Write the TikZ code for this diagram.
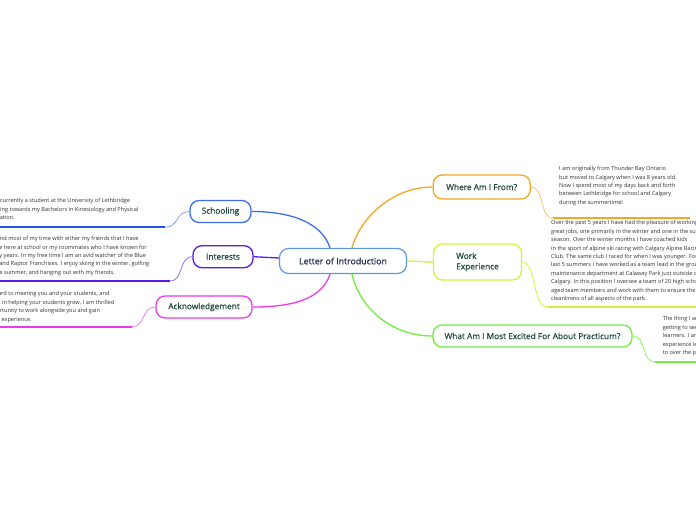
\documentclass[tikz,border=0pt]{standalone}
\usepackage{fontspec}
\setmainfont{Open Sans}
\newfontfamily\labfont[FakeBold=0.6]{Open Sans}
\usetikzlibrary{calc}
\definecolor{cblue}{HTML}{3B6EF2}
\definecolor{cblueu}{HTML}{2352F0}
\definecolor{cpurple}{HTML}{5A1CE6}
\definecolor{cmag}{HTML}{EA3AEA}
\definecolor{corange}{HTML}{F5A623}
\definecolor{cyg}{HTML}{D6F03C}
\definecolor{cgreen}{HTML}{6FEE3E}
\definecolor{ccenter}{HTML}{5B9BD8}
\definecolor{labc}{HTML}{1E4A3E}
\definecolor{navy}{HTML}{1E2B4E}
\definecolor{notec}{HTML}{303030}
\begin{document}
\begin{tikzpicture}[x=1pt,y=-1pt,
  branch/.style={draw, rounded corners=9pt, line width=1.3pt, fill=white,
    minimum height=22pt, inner sep=0pt, font=\labfont\fontsize{8.3}{10.5}\selectfont, text=labc},
  note/.style={anchor=north west, align=left, inner sep=0pt,
    font=\fontsize{5.6}{8.4}\selectfont, text=notec},
  bline/.style={line width=1.3pt},
  thin/.style={line width=0.8pt},
  uline/.style={line width=2pt}]
\useasboundingbox (0,0) rectangle (696,520);
\clip (0,0) rectangle (696,520);

% center
\node[branch, draw=ccenter, line width=1.2pt, minimum width=127pt, minimum height=25pt,
  font=\labfont\fontsize{8.8}{10}\selectfont, text=navy] (c) at (343,261) {Letter of Introduction};

% branches
\node[branch, draw=cblue, minimum width=61pt] (s) at (220.5,211.5) {Schooling};
\node[branch, draw=cpurple, minimum width=60pt] (i) at (223,256.7) {Interests};
\node[branch, draw=cmag, minimum width=96pt] (a) at (204,307) {Acknowledgement};
\node[branch, draw=corange, minimum width=97pt, minimum height=24pt] (w) at (481.7,187) {Where Am I From?};
\node[branch, draw=cyg, minimum width=88pt, minimum height=36pt, align=left] (e) at (477.5,262) {Work\\Experience};
\node[branch, draw=cgreen, minimum width=199pt] (p) at (532.5,336) {What Am I Most Excited For About Practicum?};

% start points on center
\coordinate (c1) at ($(c.north)+(-13,0)$);
\coordinate (c2) at ($(c.north)+(9,0)$);
\coordinate (c3) at ($(c.south)+(-13,0)$);
\coordinate (c4) at ($(c.south)+(9,0)$);
\coordinate (c5) at ($(c.west)+(0,-3)$);

\draw[bline, cblue] (c1) .. controls ($(c1)+(-8,-25)$) and ($(s.east)+(40,0)$) .. (s.east);
\draw[bline, corange] (c2) .. controls ($(c2)+(8,-30)$) and ($(w.west)+(-40,0)$) .. (w.west);
\draw[bline, cmag] (c3) .. controls ($(c3)+(-8,25)$) and ($(a.east)+(40,0)$) .. (a.east);
\draw[bline, cgreen] (c4) .. controls ($(c4)+(8,35)$) and ($(p.west)+(-40,0)$) .. (p.west);
\draw[bline, cpurple] (c5) .. controls ($(c5)+(-12,0)$) and ($(i.east)+(12,0)$) .. (i.east);
\draw[bline, cyg] (c.east) .. controls ($(c.east)+(12,0)$) and ($(e.west)+(-12,0)$) .. (e.west);

% notes
\node[note] (sn) at (-13,198.2) {I am currently a student at the University of Lethbridge\\working towards my Bachelors in Kinesiology and Physical\\Education.};
\node[note] (in) at (-12.5,236.2) {I spend most of my time with either my friends that I have\\made here at school or my roommates who I have known for\\many years. In my free time I am an avid watcher of the Blue\\Jays and Raptor Franchises. I enjoy skiing in the winter, golfing\\in the summer, and hanging out with my friends.};
\node[note] (an) at (-14,291.5) {forward to meeting you and your students, and\\assist in helping your students grow. I am thrilled\\opportunity to work alongside you and gain\\more experience.};
\node[note] (wn) at (559,166.2) {I am originally from Thunder Bay Ontario\\but moved to Calgary when I was 8 years old.\\Now I spend most of my days back and forth\\between Lethbridge for school and Calgary\\during the summertime!};
\node[note] (en) at (551,220.5) {Over the past 5 years I have had the pleasure of working two\\great jobs, one primarily in the winter and one in the summer\\season. Over the winter months I have coached kids\\in the sport of alpine ski racing with Calgary Alpine Racing\\Club. The same club I raced for when I was younger. For the\\last 5 summers I have worked as a team lead in the grounds\\maintenance department at Calaway Park just outside of\\Calgary. In this position I oversee a team of 20 high school\\aged team members and work with them to ensure the\\cleanliness of all aspects of the park.};
\node[note] (pn) at (662.7,316.5) {The thing I am most excited for is\\getting to see my future\\learners. I am also excited to\\experience leading a classroom\\to over the past few years.};

% underline endpoints
\coordinate (su) at (165,227.3);  \coordinate (su0) at (-5,227.3);
\coordinate (iu) at (170,281);    \coordinate (iu0) at (-5,281);
\coordinate (au) at (131.7,326.7);\coordinate (au0) at (-5,326.7);
\coordinate (wu) at (553,218);    \coordinate (wu1) at (690,218);
\coordinate (eu) at (546.7,306.7);\coordinate (eu1) at (705,306.7);
\coordinate (pu) at (655,362);    \coordinate (pu1) at (705,362);

\draw[thin, cblue!65] (s.west) .. controls ($(s.west)+(-14,0)$) and ($(su)+(14,0)$) .. (su);
\draw[uline, cblueu] (su0) -- (su);
\draw[thin, cpurple!65] (i.west) .. controls ($(i.west)+(-14,0)$) and ($(iu)+(14,0)$) .. (iu);
\draw[uline, cpurple] (iu0) -- (iu);
\draw[thin, cmag!65] (a.west) .. controls ($(a.west)+(-14,0)$) and ($(au)+(14,0)$) .. (au);
\draw[uline, cmag] (au0) -- (au);
\draw[thin, corange!65] (w.east) .. controls ($(w.east)+(14,0)$) and ($(wu)+(-14,0)$) .. (wu);
\draw[uline, corange] (wu) -- (wu1);
\draw[thin, cyg] (e.east) .. controls ($(e.east)+(14,0)$) and ($(eu)+(-14,0)$) .. (eu);
\draw[uline, cyg] (eu) -- (eu1);
\draw[thin, cgreen!80] (p.east) .. controls ($(p.east)+(14,0)$) and ($(pu)+(-14,0)$) .. (pu);
\draw[uline, cgreen] (pu) -- (pu1);
\end{tikzpicture}
\end{document}
